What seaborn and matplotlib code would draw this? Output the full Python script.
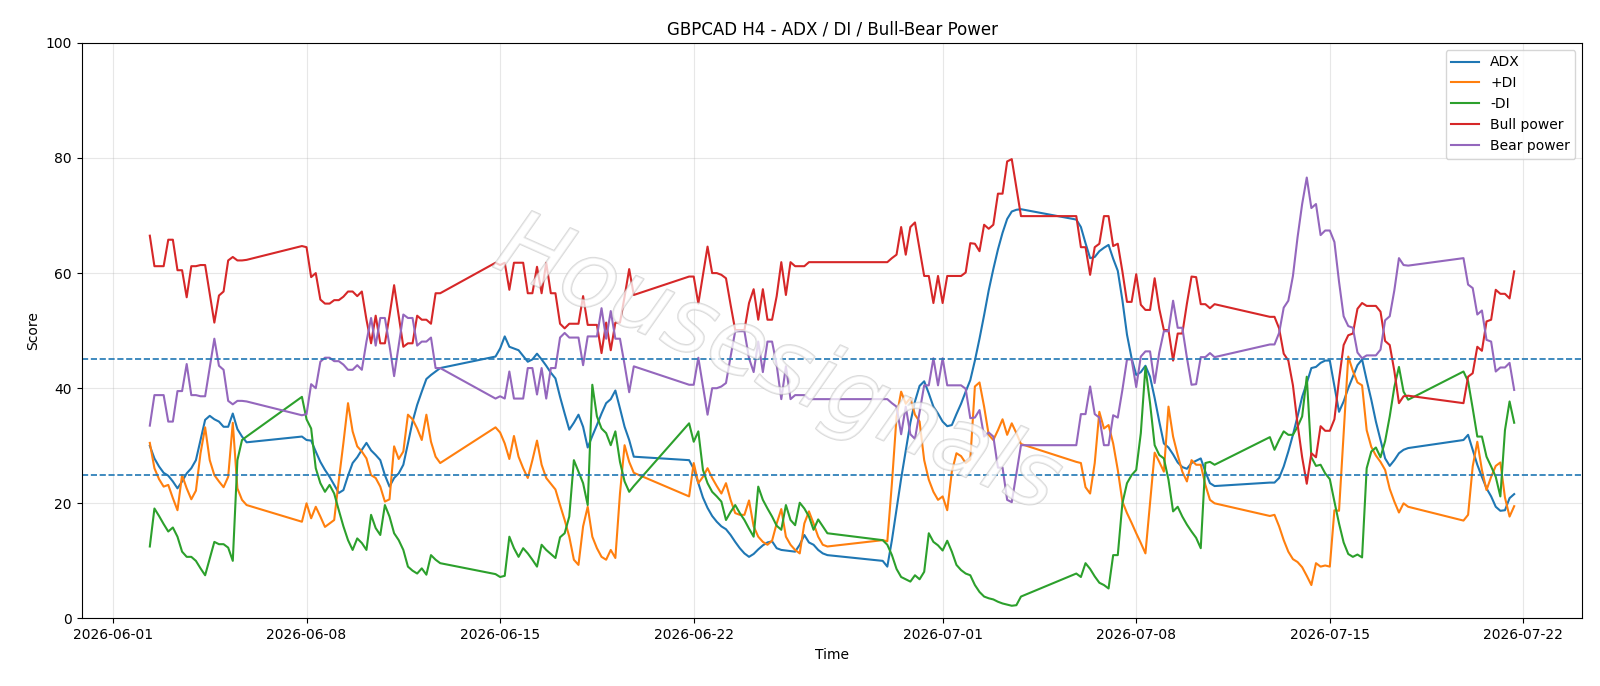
import numpy as np
import pandas as pd
import matplotlib
matplotlib.use("Agg")
import matplotlib.pyplot as plt
import matplotlib.dates as mdates
import matplotlib.patheffects as pe
import seaborn as sns

# H4 bars, one block per trading week (gaps are weekends)
segment_starts = ["2026-06-02 08:00", "2026-06-07 20:00", "2026-06-14 20:00", "2026-06-21 20:00",
                  "2026-06-28 20:00", "2026-07-05 20:00", "2026-07-12 20:00", "2026-07-19 20:00"]
segment_lengths = [22, 31, 31, 31, 31, 31, 31, 12]

adx = [
    30.0, 27.8, 26.4, 25.3, 24.8, 23.8, 22.6, 23.8, 25.2, 26.1, 27.5, 31.0, 34.5, 35.2, 34.6, 34.2, 33.3, 33.3, 35.6, 32.9, 31.6, 30.6,
    31.6, 31.0, 30.9, 29.0, 27.2, 25.8, 24.6, 23.2, 21.8, 22.3, 24.8, 27.0, 28.0, 29.3, 30.5, 29.2, 28.4, 27.5, 24.9, 22.9, 24.4, 25.2, 26.7, 30.4, 34.2, 37.1, 39.4, 41.6, 42.3, 42.9, 43.5,
    45.5, 46.9, 49.0, 47.2, 46.9, 46.6, 45.6, 44.6, 45.0, 46.0, 45.0, 43.9, 42.7, 41.7, 38.5, 35.6, 32.8, 34.0, 35.4, 33.3, 29.7, 31.7, 33.6, 35.6, 37.4, 38.1, 39.6, 36.5, 33.3, 31.0, 28.1,
    27.5, 26.0, 23.5, 21.0, 19.2, 17.8, 16.8, 16.0, 15.5, 14.5, 13.3, 12.2, 11.3, 10.7, 11.2, 12.0, 12.7, 13.2, 13.4, 12.2, 11.9, 11.8, 11.7, 11.6, 12.8, 14.5, 13.2, 12.8, 11.9, 11.3, 11.0,
    10.0, 9.0, 13.6, 19.0, 24.3, 29.2, 34.0, 37.7, 40.4, 41.2, 39.1, 36.8, 35.6, 34.2, 33.4, 33.6, 35.5, 37.3, 39.4, 41.4, 44.8, 48.6, 52.7, 57.0, 60.7, 64.1, 67.0, 69.4, 70.7, 71.0, 71.1,
    69.3, 68.0, 65.2, 62.6, 62.8, 63.8, 64.4, 64.9, 62.5, 60.4, 55.3, 49.3, 45.2, 42.3, 42.8, 43.9, 42.0, 38.3, 34.2, 30.4, 29.7, 28.5, 27.1, 26.3, 26.0, 27.0, 27.4, 27.8, 25.5, 23.5, 23.0,
    23.6, 23.6, 24.4, 26.4, 29.0, 31.9, 35.1, 38.5, 40.9, 43.5, 43.7, 44.4, 44.8, 44.8, 40.3, 35.9, 37.7, 40.0, 42.0, 44.0, 45.0, 41.4, 38.0, 34.2, 31.0, 27.8, 26.5, 27.5, 28.7, 29.3, 29.6,
    31.0, 31.9, 29.3, 26.7, 24.6, 22.6, 21.2, 19.4, 18.7, 18.8, 20.9, 21.6,
]

plus_di = [
    30.5, 26.1, 24.2, 22.9, 23.2, 20.9, 18.8, 24.9, 22.6, 20.7, 22.2, 28.7, 33.2, 27.5, 24.9, 23.8, 22.8, 24.6, 34.0, 22.6, 20.6, 19.7,
    16.8, 20.0, 17.4, 19.4, 17.7, 15.9, 16.5, 17.1, 24.0, 30.5, 37.4, 32.5, 29.9, 29.0, 27.8, 24.9, 24.4, 22.9, 20.3, 20.7, 29.9, 27.7, 29.0, 35.4, 34.6, 33.0, 31.0, 35.4, 30.7, 28.1, 27.0,
    33.2, 32.3, 30.4, 27.7, 31.7, 28.1, 26.1, 24.4, 27.5, 30.9, 26.7, 24.4, 23.4, 22.4, 19.7, 17.1, 14.2, 10.2, 9.3, 16.0, 19.4, 14.2, 12.2, 10.7, 10.2, 11.9, 10.5, 21.7, 30.1, 27.2, 25.3,
    21.2, 27.0, 23.5, 24.6, 26.1, 24.4, 23.0, 21.7, 23.5, 20.6, 18.3, 18.0, 18.0, 20.5, 16.0, 14.2, 13.3, 12.8, 13.5, 16.5, 19.0, 14.2, 12.8, 11.9, 11.3, 16.5, 18.6, 16.5, 14.2, 12.8, 12.5,
    13.6, 13.4, 23.5, 35.0, 39.4, 37.3, 38.3, 35.4, 34.2, 27.5, 24.1, 22.0, 20.6, 21.2, 18.8, 25.5, 28.7, 28.2, 27.0, 27.6, 40.3, 41.0, 36.8, 31.9, 31.0, 32.7, 34.6, 31.9, 33.9, 32.2, 30.3,
    27.2, 27.0, 22.8, 21.7, 27.0, 35.9, 33.0, 33.6, 30.4, 25.8, 20.3, 18.3, 16.6, 14.8, 13.1, 11.3, 20.0, 28.8, 27.2, 25.5, 36.8, 31.6, 28.4, 25.5, 23.8, 27.5, 26.7, 26.7, 23.2, 20.6, 20.0,
    17.8, 18.0, 16.0, 13.6, 11.6, 10.3, 9.8, 8.9, 7.4, 5.8, 9.6, 9.0, 9.2, 9.0, 18.8, 18.7, 32.2, 45.5, 43.0, 41.0, 40.5, 32.7, 29.8, 28.3, 27.2, 25.8, 22.5, 20.3, 18.4, 20.0, 19.4,
    17.0, 18.0, 26.4, 30.7, 25.8, 22.3, 24.6, 26.5, 27.1, 21.0, 17.7, 19.5,
]

minus_di = [
    12.5, 19.1, 17.8, 16.4, 15.1, 15.8, 14.2, 11.6, 10.7, 10.7, 10.0, 8.7, 7.5, 10.4, 13.3, 12.9, 12.9, 12.3, 10.0, 27.5, 31.0, 31.6,
    38.5, 34.6, 33.0, 26.1, 23.5, 22.0, 23.2, 21.7, 18.8, 16.0, 13.6, 11.9, 13.9, 13.1, 11.9, 18.0, 15.7, 14.5, 19.7, 17.7, 14.8, 13.6, 11.9, 9.0, 8.3, 7.8, 8.7, 7.6, 11.0, 10.2, 9.6,
    7.7, 7.2, 7.4, 14.2, 12.2, 10.7, 12.2, 11.3, 10.2, 9.0, 12.8, 11.9, 11.2, 10.5, 14.1, 14.8, 17.7, 27.5, 25.5, 23.5, 19.7, 40.6, 35.1, 33.0, 32.2, 30.1, 32.5, 27.2, 23.8, 22.0, 23.0,
    33.9, 30.7, 32.5, 25.8, 23.5, 22.0, 21.2, 20.3, 17.1, 18.5, 19.7, 18.3, 17.1, 15.6, 14.2, 22.9, 20.6, 19.1, 17.7, 16.1, 15.4, 19.7, 17.1, 16.2, 20.1, 19.1, 17.7, 15.4, 17.2, 16.0, 14.8,
    13.6, 12.8, 11.0, 8.6, 7.2, 6.8, 6.4, 7.5, 6.8, 8.1, 14.8, 13.3, 12.7, 11.8, 13.5, 11.6, 9.3, 8.4, 7.8, 7.5, 5.8, 4.6, 3.8, 3.5, 3.3, 2.9, 2.6, 2.4, 2.2, 2.3, 3.8,
    7.8, 7.2, 9.6, 8.6, 7.3, 6.2, 5.8, 5.2, 11.0, 11.0, 20.0, 23.5, 24.9, 25.8, 32.2, 43.7, 37.4, 30.1, 28.4, 27.8, 24.1, 18.6, 19.4, 17.7, 16.3, 15.1, 14.0, 12.2, 27.0, 27.2, 26.7,
    31.5, 29.3, 31.0, 32.5, 31.9, 31.9, 33.3, 35.1, 42.0, 28.0, 26.5, 26.7, 25.2, 24.2, 20.3, 16.5, 13.2, 11.2, 10.7, 11.1, 10.6, 26.1, 29.0, 29.7, 28.0, 30.8, 35.1, 40.2, 43.7, 39.4, 38.0,
    42.9, 41.2, 36.5, 31.6, 31.6, 28.1, 26.4, 24.6, 21.2, 32.7, 37.7, 34.0,
]

bull_power = [
    66.5, 61.2, 61.2, 61.2, 65.8, 65.8, 60.5, 60.5, 55.8, 61.2, 61.2, 61.4, 61.4, 56.4, 51.4, 56.1, 56.8, 62.2, 62.8, 62.2, 62.2, 62.3,
    64.7, 64.5, 59.3, 60.0, 55.4, 54.7, 54.7, 55.3, 55.3, 55.9, 56.8, 56.8, 56.0, 56.8, 51.9, 47.8, 52.6, 47.8, 47.8, 52.6, 57.9, 52.6, 47.2, 47.8, 47.8, 52.6, 51.9, 51.9, 51.2, 56.5, 56.5,
    61.8, 61.4, 61.8, 57.1, 61.8, 61.8, 61.8, 56.5, 56.5, 61.1, 56.5, 61.8, 56.5, 56.5, 51.2, 50.4, 51.2, 51.2, 51.2, 56.0, 51.0, 51.0, 51.0, 46.1, 51.4, 46.6, 51.4, 51.4, 55.9, 60.7, 56.2,
    59.4, 59.4, 54.7, 59.6, 64.6, 60.0, 60.0, 59.7, 59.1, 54.5, 50.1, 50.1, 50.1, 54.8, 57.2, 51.9, 57.2, 51.9, 51.9, 56.0, 61.9, 56.2, 61.9, 61.2, 61.2, 61.2, 61.9, 61.9, 61.9, 61.9, 61.9,
    61.9, 61.9, 62.6, 63.2, 68.0, 63.2, 68.0, 68.8, 64.1, 59.5, 59.5, 54.8, 59.5, 54.8, 59.5, 59.5, 59.5, 59.5, 60.1, 65.2, 65.1, 63.8, 68.4, 67.7, 68.4, 73.8, 73.8, 79.4, 79.8, 74.8, 69.9,
    69.9, 64.5, 64.5, 59.7, 64.5, 65.1, 69.9, 69.9, 64.7, 65.1, 60.3, 55.0, 55.0, 59.8, 54.5, 53.6, 53.6, 59.1, 53.8, 50.1, 50.1, 44.8, 49.5, 49.5, 54.7, 59.4, 59.3, 54.6, 54.6, 53.9, 54.6,
    52.4, 52.4, 50.4, 46.0, 44.8, 40.5, 33.8, 28.0, 23.4, 28.7, 28.0, 33.4, 32.6, 32.6, 34.6, 41.5, 47.5, 49.2, 49.5, 53.8, 54.8, 54.3, 54.3, 54.3, 53.3, 48.2, 47.5, 43.0, 37.4, 38.6, 38.7,
    37.4, 42.0, 42.6, 47.2, 46.5, 51.6, 51.9, 57.1, 56.4, 56.4, 55.6, 60.3,
]

bear_power = [
    33.5, 38.8, 38.8, 38.8, 34.2, 34.2, 39.5, 39.5, 44.2, 38.8, 38.8, 38.6, 38.6, 43.6, 48.6, 43.9, 43.2, 37.8, 37.2, 37.8, 37.8, 37.7,
    35.3, 35.5, 40.7, 40.0, 44.6, 45.3, 45.3, 44.7, 44.7, 44.1, 43.2, 43.2, 44.0, 43.2, 48.1, 52.2, 47.4, 52.2, 52.2, 47.4, 42.1, 47.4, 52.8, 52.2, 52.2, 47.4, 48.1, 48.1, 48.8, 43.5, 43.5,
    38.2, 38.6, 38.2, 42.9, 38.2, 38.2, 38.2, 43.5, 43.5, 38.9, 43.5, 38.2, 43.5, 43.5, 48.8, 49.6, 48.8, 48.8, 48.8, 44.0, 49.0, 49.0, 49.0, 53.9, 48.6, 53.4, 48.6, 48.6, 44.1, 39.3, 43.8,
    40.6, 40.6, 45.3, 40.4, 35.4, 40.0, 40.0, 40.3, 40.9, 45.5, 49.9, 49.9, 49.9, 45.2, 42.8, 48.1, 42.8, 48.1, 48.1, 44.0, 38.1, 43.8, 38.1, 38.8, 38.8, 38.8, 38.1, 38.1, 38.1, 38.1, 38.1,
    38.1, 38.1, 37.4, 36.8, 32.0, 36.8, 32.0, 31.2, 35.9, 40.5, 40.5, 45.2, 40.5, 45.2, 40.5, 40.5, 40.5, 40.5, 39.9, 34.8, 34.9, 36.2, 31.6, 32.3, 31.6, 26.2, 26.2, 20.6, 20.2, 25.2, 30.1,
    30.1, 35.5, 35.5, 40.3, 35.5, 34.9, 30.1, 30.1, 35.3, 34.9, 39.7, 45.0, 45.0, 40.2, 45.5, 46.4, 46.4, 40.9, 46.2, 49.9, 49.9, 55.2, 50.5, 50.5, 45.3, 40.6, 40.7, 45.4, 45.4, 46.1, 45.4,
    47.6, 47.6, 49.6, 54.0, 55.2, 59.5, 66.2, 72.0, 76.6, 71.3, 72.0, 66.6, 67.4, 67.4, 65.4, 58.5, 52.5, 50.8, 50.5, 46.2, 45.2, 45.7, 45.7, 45.7, 46.7, 51.8, 52.5, 57.0, 62.6, 61.4, 61.3,
    62.6, 58.0, 57.4, 52.8, 53.5, 48.4, 48.1, 42.9, 43.6, 43.6, 44.4, 39.7,
]

series_names = ["ADX", "+DI", "-DI", "Bull power", "Bear power"]
series_colors = ["#1f77b4", "#ff7f0e", "#2ca02c", "#d62728", "#9467bd"]
threshold_levels = [45, 25]
title = "GBPCAD H4 - ADX / DI / Bull-Bear Power"
watermark = "Housesignals"

times = pd.DatetimeIndex(np.concatenate(
    [pd.date_range(s, periods=n, freq="4h").values for s, n in zip(segment_starts, segment_lengths)]))

df = pd.DataFrame({"Time": times, "ADX": adx, "+DI": plus_di, "-DI": minus_di,
                   "Bull power": bull_power, "Bear power": bear_power})

fig, ax = plt.subplots(figsize=(16, 6.86), dpi=100)
fig.subplots_adjust(left=0.051, right=0.989, bottom=0.0985, top=0.9375)

for name, color in zip(series_names, series_colors):
    sns.lineplot(data=df, x="Time", y=name, ax=ax, label=name, color=color, linewidth=1.5)

for lvl in threshold_levels:
    ax.axhline(lvl, linestyle="--", linewidth=1.2, color="#1f77b4")

ax.set_ylim(0, 100)
ax.set_title(title)
ax.set_xlabel("Time")
ax.set_ylabel("Score")
ax.grid(True, alpha=0.3)
ax.xaxis.set_major_locator(mdates.DayLocator(bymonthday=[1, 8, 15, 22]))
ax.xaxis.set_major_formatter(mdates.DateFormatter("%Y-%m-%d"))
ax.legend(loc="upper right")

ax.text(0.464, 0.44, watermark, transform=ax.transAxes, rotation=-24, fontsize=66,
        style="italic", fontweight="light", color="white", alpha=0.5, ha="center", va="center",
        zorder=6, path_effects=[pe.withStroke(linewidth=1.3, foreground="#b4b4b4")])

fig.savefig("out.png", dpi=100)
